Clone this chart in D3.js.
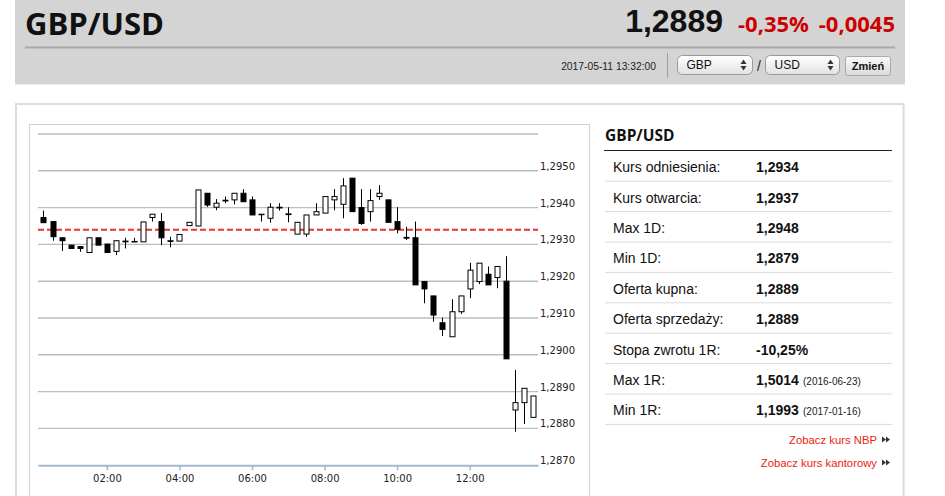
<!DOCTYPE html>
<html>
<head>
<meta charset="utf-8">
<script src="https://cdn.jsdelivr.net/npm/d3@7"></script>
<style>
    body { margin: 0; background: #fff; }
    svg { display: block; }
</style>
</head>
<body>
<svg id="page" width="945" height="496"></svg>
<script>
// 15 minute candles, GBP/USD 2017-05-11
var times = ["00:15", "00:30", "00:45", "01:00", "01:15", "01:30", "01:45", "02:00", "02:15", "02:30", "02:45",
    "03:00", "03:15", "03:30", "03:45", "04:00", "04:15", "04:30", "04:45", "05:00", "05:15", "05:30", "05:45",
    "06:00", "06:15", "06:30", "06:45", "07:00", "07:15", "07:30", "07:45", "08:00", "08:15", "08:30", "08:45",
    "09:00", "09:15", "09:30", "09:45", "10:00", "10:15", "10:30", "10:45", "11:00", "11:15", "11:30", "11:45",
    "12:00", "12:15", "12:30", "12:45", "13:00", "13:15", "13:30", "13:45"];
var opens = [1.29373, 1.29362, 1.29318, 1.29298, 1.29294, 1.29278, 1.29318, 1.29301, 1.29281, 1.29307, 1.29307,
    1.29307, 1.29373, 1.29362, 1.29308, 1.29309, 1.29351, 1.29350, 1.29439, 1.29401, 1.29418, 1.29421, 1.29439,
    1.29421, 1.29382, 1.29371, 1.29399, 1.29381, 1.29328, 1.29328, 1.29380, 1.29385, 1.29421, 1.29409, 1.29480,
    1.29400, 1.29389, 1.29430, 1.29421, 1.29362, 1.29319, 1.29318, 1.29199, 1.29160, 1.29087, 1.29049, 1.29117,
    1.29179, 1.29199, 1.29219, 1.29210, 1.29200, 1.28850, 1.28870, 1.28830];
var highs = [1.29392, 1.29362, 1.29318, 1.29298, 1.29294, 1.29318, 1.29318, 1.29301, 1.29310, 1.29318, 1.29318,
    1.29361, 1.29382, 1.29385, 1.29321, 1.29327, 1.29360, 1.29448, 1.29439, 1.29423, 1.29430, 1.29439, 1.29450,
    1.29430, 1.29383, 1.29412, 1.29412, 1.29401, 1.29360, 1.29380, 1.29412, 1.29430, 1.29450, 1.29480, 1.29480,
    1.29450, 1.29450, 1.29461, 1.29421, 1.29401, 1.29348, 1.29362, 1.29199, 1.29160, 1.29101, 1.29151, 1.29160,
    1.29250, 1.29249, 1.29240, 1.29240, 1.29268, 1.28959, 1.28909, 1.28888];
var lows = [1.29359, 1.29310, 1.29282, 1.29289, 1.29280, 1.29278, 1.29298, 1.29278, 1.29271, 1.29289, 1.29306,
    1.29307, 1.29362, 1.29298, 1.29292, 1.29309, 1.29351, 1.29350, 1.29402, 1.29393, 1.29412, 1.29409, 1.29416,
    1.29380, 1.29362, 1.29359, 1.29392, 1.29360, 1.29328, 1.29321, 1.29380, 1.29385, 1.29393, 1.29371, 1.29389,
    1.29353, 1.29362, 1.29421, 1.29360, 1.29330, 1.29312, 1.29190, 1.29140, 1.29090, 1.29051, 1.29049, 1.29111,
    1.29154, 1.29192, 1.29190, 1.29181, 1.28989, 1.28791, 1.28812, 1.28830];
var closes = [1.29359, 1.29321, 1.29310, 1.29289, 1.29289, 1.29318, 1.29298, 1.29278, 1.29310, 1.29309, 1.29308,
    1.29361, 1.29382, 1.29318, 1.29310, 1.29327, 1.29360, 1.29448, 1.29407, 1.29412, 1.29420, 1.29439, 1.29416,
    1.29380, 1.29381, 1.29401, 1.29401, 1.29383, 1.29360, 1.29380, 1.29389, 1.29430, 1.29430, 1.29459, 1.29389,
    1.29357, 1.29419, 1.29439, 1.29360, 1.29341, 1.29317, 1.29190, 1.29179, 1.29108, 1.29069, 1.29117, 1.29160,
    1.29230, 1.29249, 1.29190, 1.29240, 1.28989, 1.28870, 1.28909, 1.28888];
var referenceRate = 1.2934;

var yTicks = [1.2870, 1.2880, 1.2890, 1.2900, 1.2910, 1.2920, 1.2930, 1.2940, 1.2950, 1.2960];
var xTicks = ["02:00", "04:00", "06:00", "08:00", "10:00", "12:00"];

var infoLabels = ["Kurs odniesienia:", "Kurs otwarcia:", "Max 1D:", "Min 1D:", "Oferta kupna:",
    "Oferta sprzedaży:", "Stopa zwrotu 1R:", "Max 1R:", "Min 1R:"];
var infoValues = ["1,2934", "1,2937", "1,2948", "1,2879", "1,2889", "1,2889", "-10,25%", "1,5014", "1,1993"];
var infoNotes = ["", "", "", "", "", "", "", "(2016-06-23)", "(2017-01-16)"];

var svg = d3.select("#page");
var defs = svg.append("defs");

var grad = defs.append("linearGradient").attr("id", "selGrad").attr("x1", 0).attr("y1", 0).attr("x2", 0).attr("y2", 1);
grad.append("stop").attr("offset", "0%").attr("stop-color", "#ffffff");
grad.append("stop").attr("offset", "100%").attr("stop-color", "#e2e2e2");
var grad2 = defs.append("linearGradient").attr("id", "btnGrad").attr("x1", 0).attr("y1", 0).attr("x2", 0).attr("y2", 1);
grad2.append("stop").attr("offset", "0%").attr("stop-color", "#fbfbfb");
grad2.append("stop").attr("offset", "100%").attr("stop-color", "#d9d9d9");

// ---- header ----
var header = svg.append("g");
header.append("rect").attr("x", 15).attr("y", 0).attr("width", 890).attr("height", 84.5).attr("fill", "#d4d4d4");
header.append("text").attr("x", 25).attr("y", 35)
    .style("font", "bold 31px 'Open Sans', sans-serif").attr("fill", "#111").text("GBP/USD");
header.append("text").attr("x", 723).attr("y", 32).attr("text-anchor", "end")
    .style("font", "bold 32px 'Liberation Sans', Arial, sans-serif").attr("fill", "#111").text("1,2889");
header.append("text").attr("x", 738).attr("y", 31.5)
    .style("font", "bold 22px 'Open Sans', sans-serif").attr("fill", "#cc0000").text("-0,35%");
header.append("text").attr("x", 895).attr("y", 31.5).attr("text-anchor", "end")
    .style("font", "bold 22px 'Open Sans', sans-serif").attr("fill", "#cc0000").text("-0,0045");
header.append("line").attr("x1", 25).attr("x2", 895).attr("y1", 47.5).attr("y2", 47.5)
    .attr("stroke", "#a9a9a9").attr("stroke-width", 2);
header.append("text").attr("x", 656).attr("y", 69.5).attr("text-anchor", "end")
    .style("font", "10.3px 'Liberation Sans', Arial, sans-serif").attr("fill", "#222").text("2017-05-11 13:32:00");
header.append("line").attr("x1", 667.5).attr("x2", 667.5).attr("y1", 53).attr("y2", 78).attr("stroke", "#a0a0a0");

var selects = [{ x: 677.5, w: 75, label: "GBP" }, { x: 765.5, w: 74, label: "USD" }];
selects.forEach(function (s) {
    header.append("rect").attr("x", s.x).attr("y", 55.5).attr("width", s.w).attr("height", 19).attr("rx", 5)
        .attr("fill", "url(#selGrad)").attr("stroke", "#9a9a9a");
    header.append("text").attr("x", s.x + 9).attr("y", 69)
        .style("font", "12px 'Liberation Sans', Arial, sans-serif").attr("fill", "#111").text(s.label);
    var ax = s.x + s.w - 9;
    header.append("path").attr("d", "M" + (ax - 3) + ",64L" + (ax + 3) + ",64L" + ax + ",59.5Z").attr("fill", "#333");
    header.append("path").attr("d", "M" + (ax - 3) + ",66L" + (ax + 3) + ",66L" + ax + ",70.5Z").attr("fill", "#333");
});
header.append("text").attr("x", 759).attr("y", 71).attr("text-anchor", "middle")
    .style("font", "14px 'Liberation Sans', Arial, sans-serif").attr("fill", "#222").text("/");
header.append("rect").attr("x", 845.5).attr("y", 56.5).attr("width", 45).attr("height", 19).attr("rx", 2)
    .attr("fill", "url(#btnGrad)").attr("stroke", "#a8a8a8");
header.append("text").attr("x", 868).attr("y", 70).attr("text-anchor", "middle")
    .style("font", "bold 11px 'Liberation Sans', Arial, sans-serif").attr("fill", "#111").text("Zmień");

// ---- panel ----
svg.append("rect").attr("x", 16).attr("y", 104).attr("width", 887.5).attr("height", 420)
    .attr("fill", "none").attr("stroke", "#dcdcdc").attr("stroke-width", 2);
svg.append("rect").attr("x", 29.5).attr("y", 124.5).attr("width", 560).attr("height", 400)
    .attr("fill", "#fff").attr("stroke", "#d2d2d2");

// ---- candlestick chart ----
var parseTime = d3.timeParse("%H:%M");
var candles = times.map(function (t, i) {
    return { time: parseTime(t), open: opens[i], high: highs[i], low: lows[i], close: closes[i] };
});

var x = d3.scaleTime().domain([parseTime("00:06"), parseTime("13:53")]).range([38, 538]);
var y = d3.scaleLinear().domain([1.2870, 1.2960]).range([465.2, 134]);
var fmt = function (v) { return d3.format(".4f")(v).replace(".", ","); };

var chart = svg.append("g");

chart.selectAll(".grid")
    .data(yTicks.slice(1))
    .enter().append("line")
    .attr("class", "grid")
    .attr("x1", 38).attr("x2", 538)
    .attr("y1", function (d) { return y(d); }).attr("y2", function (d) { return y(d); })
    .attr("stroke", "#bdbdbd").attr("stroke-width", 1.4);

chart.selectAll(".ylabel")
    .data(yTicks.slice(0, -1))
    .enter().append("text")
    .attr("class", "ylabel")
    .attr("x", 540).attr("y", function (d) { return y(d) - 1; })
    .style("font", "10px 'DejaVu Sans', sans-serif").attr("fill", "#222")
    .text(fmt);

var xAxis = chart.append("g")
    .attr("transform", "translate(0," + y(1.2870) + ")")
    .call(d3.axisBottom(x)
        .tickValues(xTicks.map(parseTime))
        .tickFormat(d3.timeFormat("%H:%M"))
        .tickSize(5).tickSizeOuter(0).tickPadding(5));
xAxis.select(".domain").attr("stroke", "#a3b8cc").attr("stroke-width", 2);
xAxis.selectAll(".tick line").attr("stroke", "#a3b8cc").attr("stroke-width", 1.5);
xAxis.selectAll(".tick text").style("font", "10px 'DejaVu Sans', sans-serif").attr("fill", "#222");

chart.append("line")
    .attr("x1", 38).attr("x2", 538)
    .attr("y1", y(referenceRate)).attr("y2", y(referenceRate))
    .attr("stroke", "#ee3333").attr("stroke-width", 2).attr("stroke-dasharray", "6,3");

var candle = chart.selectAll(".candle")
    .data(candles)
    .enter().append("g")
    .attr("class", "candle");

candle.append("line")
    .attr("x1", function (d) { return Math.round(x(d.time)) + 0.5; })
    .attr("x2", function (d) { return Math.round(x(d.time)) + 0.5; })
    .attr("y1", function (d) { return y(d.high); })
    .attr("y2", function (d) { return y(d.low); })
    .attr("stroke", "#000").attr("stroke-width", 1);

candle.append("rect")
    .attr("x", function (d) { return Math.round(x(d.time)) - 2; })
    .attr("y", function (d) { return y(Math.max(d.open, d.close)); })
    .attr("width", 5)
    .attr("height", function (d) { return Math.max(0.5, Math.abs(y(d.open) - y(d.close))); })
    .attr("fill", function (d) { return d.close > d.open ? "#fff" : "#000"; })
    .attr("stroke", "#000").attr("stroke-width", 1);

// ---- info table ----
var info = svg.append("g");
info.append("text").attr("x", 605).attr("y", 140.5)
    .style("font", "bold 15.5px 'Open Sans', sans-serif").attr("fill", "#111").text("GBP/USD");
info.append("line").attr("x1", 604).attr("x2", 892).attr("y1", 150.5).attr("y2", 150.5).attr("stroke", "#222");

var row = info.selectAll(".row")
    .data(infoLabels)
    .enter().append("g")
    .attr("class", "row")
    .attr("transform", function (d, i) { return "translate(0," + (180.7 + 30.4 * i) + ")"; });

row.append("line").attr("x1", 605).attr("x2", 892).attr("y1", 0.5).attr("y2", 0.5).attr("stroke", "#dadada");
row.append("text").attr("x", 613).attr("y", -8.5)
    .style("font", "14px 'Liberation Sans', Arial, sans-serif").attr("fill", "#111")
    .text(function (d) { return d; });
row.append("text").attr("x", 756).attr("y", -8.5)
    .style("font", "bold 14px 'Liberation Sans', Arial, sans-serif").attr("fill", "#111")
    .text(function (d, i) { return infoValues[i]; });
row.append("text").attr("x", 803).attr("y", -8.5)
    .style("font", "10px 'Liberation Sans', Arial, sans-serif").attr("fill", "#222")
    .text(function (d, i) { return infoNotes[i]; });

var links = ["Zobacz kurs NBP", "Zobacz kurs kantorowy"];
links.forEach(function (l, i) {
    var ly = 444 + 23 * i;
    info.append("text").attr("x", 877).attr("y", ly).attr("text-anchor", "end")
        .style("font", "11.3px 'Liberation Sans', Arial, sans-serif").attr("fill", "#ec2410").text(l);
    [882, 886].forEach(function (ax) {
        info.append("path").attr("d", "M" + ax + "," + (ly - 7.5) + "L" + (ax + 4) + "," + (ly - 4.5) + "L" + ax + "," + (ly - 1.5) + "Z")
            .attr("fill", "#333");
    });
});
</script>
</body>
</html>
